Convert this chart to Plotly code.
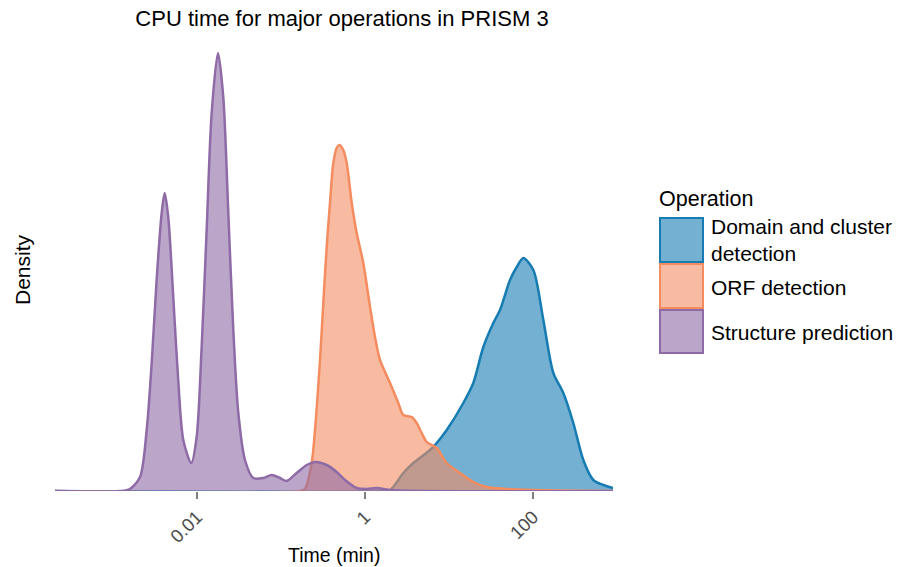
import plotly.graph_objects as go

# ---- data (time in minutes, density in arbitrary units) ----
domain_time = [0.000204, 1.509, 1.986, 2.858, 3.758, 5.939, 7.139, 9.391, 14.80, 19.46,
               25.61, 33.68, 40.45, 53.21, 63.97, 76.68, 100.9, 132.7, 174.5, 229.5,
               301.8, 396.9, 522.0, 686.6, 896.0]
domain_density = [0, 0, 0.01, 0.18, 0.28, 0.41, 0.48, 0.61, 0.88, 1.08,
                  1.44, 1.68, 1.81, 2.11, 2.24, 2.33, 2.21, 1.71, 1.18, 0.98,
                  0.68, 0.31, 0.11, 0.06, 0.03]

orf_time = [0.000204, 0.1683, 0.1931, 0.2319, 0.2541, 0.2912, 0.3190, 0.3499, 0.3831,
            0.4196, 0.4603, 0.4943, 0.5517, 0.6053, 0.6950, 0.7962, 0.9545, 1.148,
            1.315, 1.509, 1.986, 2.491, 2.858, 3.597, 4.124, 4.732, 5.430, 7.139,
            9.391, 13.52, 19.46, 28.12, 48.64, 100.9, 896.0]
orf_density = [0, 0, 0.02, 0.28, 0.61, 1.31, 1.88, 2.44, 2.88,
               3.28, 3.43, 3.46, 3.41, 3.28, 2.88, 2.58, 2.28, 1.84,
               1.54, 1.31, 1.08, 0.88, 0.76, 0.74, 0.68, 0.58, 0.49, 0.43,
               0.28, 0.18, 0.09, 0.04, 0.02, 0.01, 0]

struct_time = [0.000204, 0.00121, 0.00159, 0.00210, 0.00252, 0.00289, 0.00331, 0.00380,
               0.00412, 0.00455, 0.00522, 0.00598, 0.00687, 0.00855, 0.00991, 0.01137,
               0.01304, 0.01496, 0.01778, 0.02056, 0.02360, 0.02706, 0.03104, 0.03727,
               0.04679, 0.06152, 0.07745, 0.09727, 0.1169, 0.1538, 0.2023, 0.2541,
               0.3499, 0.4603, 0.5781, 0.7962, 1.047, 1.378, 1.986, 896.0]
struct_density = [0, 0, 0.02, 0.14, 0.61, 1.28, 2.11, 2.78,
                  2.98, 2.74, 1.94, 1.11, 0.51, 0.28, 0.54, 1.44,
                  2.61, 3.78, 4.38, 3.94, 2.78, 1.61, 0.78, 0.31,
                  0.13, 0.13, 0.16, 0.13, 0.10, 0.18, 0.26, 0.29,
                  0.26, 0.19, 0.11, 0.03, 0.02, 0.03, 0.01, 0]

names = ["Domain and cluster detection", "ORF detection", "Structure prediction"]
legend_labels = ["Domain and cluster<br>detection", "ORF detection", "Structure prediction"]
tick_vals = [0.01, 1, 100]
tick_text = ["0.01", "1", "100"]

line_colors = ["rgb(22,124,178)", "rgb(244,140,96)", "rgb(142,107,167)"]
fill_colors = ["rgba(22,124,178,0.6)", "rgba(244,140,96,0.6)", "rgba(142,107,167,0.6)"]

FONT = "Liberation Sans, Arial, Helvetica, sans-serif"

fig = go.Figure()
series = [(domain_time, domain_density), (orf_time, orf_density), (struct_time, struct_density)]
for (t, d), name, lc, fc in zip(series, names, line_colors, fill_colors):
    fig.add_trace(go.Scatter(
        x=t, y=d, name=name, mode="lines",
        line=dict(color=lc, width=2.5, shape="spline", smoothing=0.8),
        fill="tozeroy", fillcolor=fc, showlegend=False, hoverinfo="x+name"))

# plot area geometry (pixels)
L, R, T, B = 55, 288, 30, 76
W, H = 901, 567
pw, ph = W - L - R, H - T - B

def px(x):
    return (x - L) / pw

def py(y):
    return (H - B - y) / ph

fig.update_layout(
    width=W, height=H,
    margin=dict(l=L, r=R, t=T, b=B, autoexpand=False),
    paper_bgcolor="white", plot_bgcolor="white",
    font=dict(family=FONT, size=20, color="black"),
    title=dict(text="CPU time for major operations in PRISM 3",
               x=342 / W, xanchor="center", y=1 - 18 / H, yanchor="middle",
               font=dict(size=22, color="black")),
    xaxis=dict(type="log", range=[-3.69, 2.952], tickvals=tick_vals, ticktext=tick_text,
               tickangle=-45, ticks="outside", ticklen=7, tickwidth=2, tickcolor="#7f7f7f",
               tickfont=dict(size=18.5, color="#4d4d4d"), showgrid=False, zeroline=False,
               showline=False, automargin=False),
    yaxis=dict(range=[0, 4.38 * ph / 438], showticklabels=False, ticks="", showgrid=False,
               zeroline=False, showline=False, automargin=False),
)

# axis titles
fig.add_annotation(text="Time (min)", xref="paper", yref="paper", x=px(334), y=py(555),
                   showarrow=False, xanchor="center", yanchor="middle",
                   font=dict(size=19.5, color="black"))
fig.add_annotation(text="Density", xref="paper", yref="paper", x=px(22), y=py(270),
                   textangle=-90, showarrow=False, xanchor="center", yanchor="middle",
                   font=dict(size=21, color="black"))

# manual legend
fig.add_annotation(text="Operation", xref="paper", yref="paper", x=px(657), y=py(199),
                   showarrow=False, xanchor="left", yanchor="middle",
                   font=dict(size=21.5, color="black"))
keys = [(218, 262, 240), (264, 308, 287), (310, 353, 332)]
for (y0, y1, yc), lab, lc, fc in zip(keys, legend_labels, line_colors, fill_colors):
    fig.add_shape(type="rect", xref="paper", yref="paper",
                  x0=px(660), x1=px(703), y0=py(y1), y1=py(y0),
                  line=dict(color=lc, width=2), fillcolor=fc)
    fig.add_annotation(text=lab, xref="paper", yref="paper", x=px(709), y=py(yc),
                       showarrow=False, xanchor="left", yanchor="middle", align="left",
                       font=dict(size=21, color="black"))

fig.write_html("out.html", config={"displayModeBar": False},
               post_script="document.body.style.margin='0';")
